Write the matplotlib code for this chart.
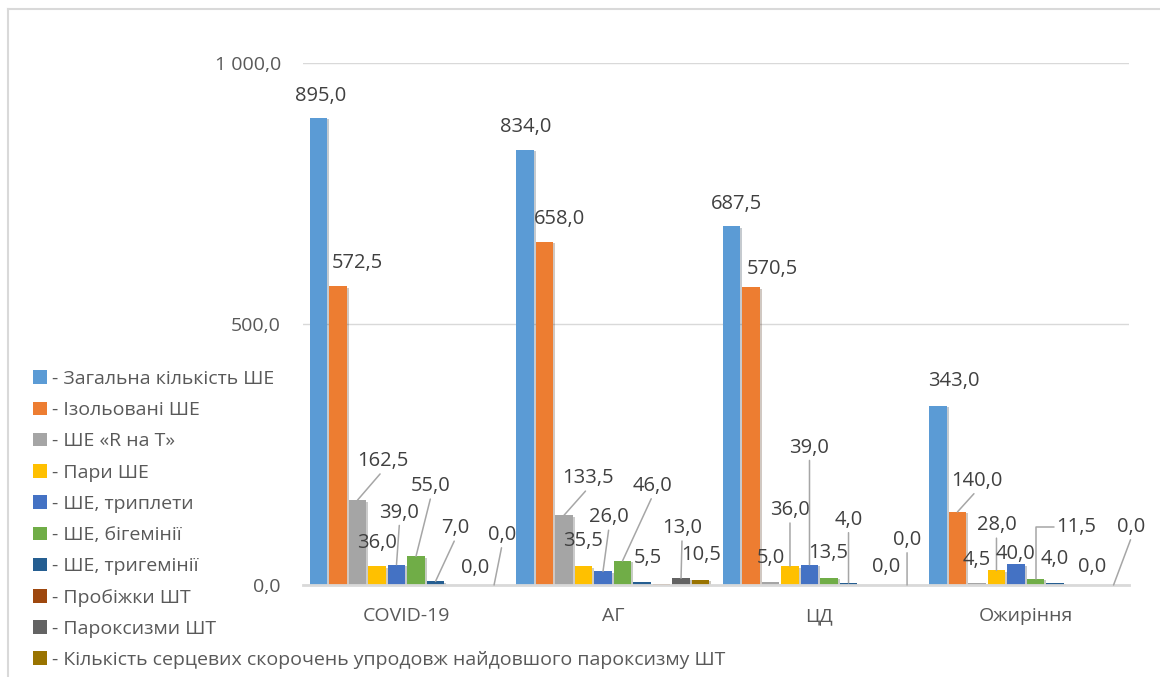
import matplotlib
matplotlib.use("Agg")
import matplotlib.pyplot as plt
import matplotlib.patheffects as pe
from matplotlib.lines import Line2D
from matplotlib.patches import Patch
import numpy as np

plt.rcParams["font.family"] = ["Open Sans", "DejaVu Sans"]

# --- дані ---
групи = ["COVID-19", "АГ", "ЦД", "Ожиріння"]
назви_серій = [
    "- Загальна кількість ШЕ",
    "- Ізольовані ШЕ",
    "- ШЕ «R на Т»",
    "- Пари ШЕ",
    "- ШЕ, триплети",
    "- ШЕ, бігемінії",
    "- ШЕ, тригемінії",
    "- Пробіжки ШТ",
    "- Пароксизми ШТ",
    "- Кількість серцевих скорочень упродовж найдовшого пароксизму ШТ",
]
загальна = [895.0, 834.0, 687.5, 343.0]
ізольовані = [572.5, 658.0, 570.5, 140.0]
r_на_t = [162.5, 133.5, 5.0, 4.5]
пари = [36.0, 35.5, 36.0, 28.0]
триплети = [39.0, 26.0, 39.0, 40.0]
бігемінії = [55.0, 46.0, 13.5, 11.5]
тригемінії = [7.0, 5.5, 4.0, 4.0]
пробіжки = [0.0, 1.0, 0.0, 0.0]
пароксизми = [0.0, 13.0, 0.0, 0.0]
скорочення = [0.0, 10.5, 0.0, 0.0]

серії = [загальна, ізольовані, r_на_t, пари, триплети,
         бігемінії, тригемінії, пробіжки, пароксизми, скорочення]

КОЛЬОРИ = ["#5B9BD5", "#ED7D31", "#A5A5A5", "#FFC000", "#4472C4",
           "#70AD47", "#255E91", "#9E480E", "#636363", "#997300"]
СІРИЙ_ТЕКСТ = "#595959"
ТЕМНИЙ_ТЕКСТ = "#404040"
ЛІНІЯ = "#D9D9D9"

# розміщення підписів значень: (серія, група) -> (dx, dy вниз у пікселях, тип виноски)
ПІДПИСИ = {
    (0, 0): (2, -22, None), (1, 0): (19, -23, None), (2, 0): (25, -39, "line"),
    (3, 0): (0, -23, None), (4, 0): (3, -52, "line"), (5, 0): (15, -70, "line"),
    (6, 0): (20, -53, "line"), (8, 0): (1, -17, None), (9, 0): (8, -50, "line"),
    (0, 1): (1, -23, None), (1, 1): (15, -23, None), (2, 1): (24, -37, "line"),
    (3, 1): (0, -25, None), (4, 1): (6, -54, "line"), (5, 1): (30, -75, "line"),
    (6, 1): (6, -24, None), (8, 1): (1, -50, "line"), (9, 1): (1, -25, None),
    (0, 2): (5, -22, None), (1, 2): (21, -18, None), (2, 2): (0, -24, None),
    (3, 2): (0, -56, "line"), (4, 2): (0, -117, "line"), (5, 2): (-1, -25, None),
    (6, 2): (0, -63, "line"), (8, 2): (-1, -18, None), (9, 2): (0, -45, "line"),
    (0, 3): (16, -25, None), (1, 3): (19, -31, "line"), (2, 3): (0, -23, None),
    (3, 3): (0, -45, "line"), (4, 3): (0, -10, None), (5, 3): (41, -52, "elbow"),
    (6, 3): (0, -24, None), (8, 3): (-2, -18, None), (9, 3): (18, -58, "line"),
}


def fmt(v):
    return f"{v:,.1f}".replace(",", " ").replace(".", ",")


fig = plt.figure(figsize=(11.6, 6.77), dpi=100)
ax = fig.add_axes([303 / 1160, 1 - 585 / 677, 826 / 1160, 522 / 677])

x = np.arange(len(групи))
крок = 0.0945
ширина = 0.083
тінь = [pe.SimplePatchShadow(offset=(1.5, -1), alpha=0.25), pe.Normal()]

for i, (значення, колір) in enumerate(zip(серії, КОЛЬОРИ)):
    bars = ax.bar(x + (i - 4.5) * крок, значення, ширина, color=колір, zorder=3)
    for b in bars:
        b.set_path_effects(тінь)

    for g, v in enumerate(значення):
        if (i, g) not in ПІДПИСИ:
            continue
        dx, dy, виноска = ПІДПИСИ[(i, g)]
        xb = x[g] + (i - 4.5) * крок
        arrow = None
        if виноска == "line":
            arrow = dict(arrowstyle="-", color="#A6A6A6", lw=1.1,
                         relpos=(0.5, 0.0), shrinkA=0, shrinkB=0)
        elif виноска == "elbow":
            arrow = dict(arrowstyle="-", color="#A6A6A6", lw=1.1,
                         relpos=(0.0, 0.5), shrinkA=0, shrinkB=0,
                         connectionstyle="angle,angleA=0,angleB=90,rad=0")
        ax.annotate(fmt(v), xy=(xb, v), xytext=(dx, -dy),
                    textcoords="offset pixels", ha="center", va="center",
                    fontsize=14.5, color=ТЕМНИЙ_ТЕКСТ, arrowprops=arrow,
                    zorder=5)

ax.set_xlim(-0.5, 3.5)
ax.set_ylim(0, 1000)
ax.set_yticks([0, 500, 1000])
ax.set_yticklabels([fmt(t) for t in [0, 500, 1000]])
ax.set_xticks(x)
ax.set_xticklabels(групи)
ax.tick_params(axis="both", length=0, labelsize=14, colors=СІРИЙ_ТЕКСТ)
ax.tick_params(axis="y", pad=16)
ax.tick_params(axis="x", pad=16)
ax.grid(axis="y", color=ЛІНІЯ, lw=1, zorder=0)
for s in ["top", "right", "left"]:
    ax.spines[s].set_visible(False)
ax.spines["bottom"].set_color(ЛІНІЯ)
ax.spines["bottom"].set_linewidth(2)
ax.spines["bottom"].set_zorder(4)

маркери = [Patch(facecolor=c, label=n) for c, n in zip(КОЛЬОРИ, назви_серій)]
fig.legend(handles=маркери, loc="upper left",
           bbox_to_anchor=(33 / 1160, 1 - 370 / 677), frameon=False,
           fontsize=14, labelcolor=СІРИЙ_ТЕКСТ, handlelength=0.7,
           handleheight=0.7, handletextpad=0.3, labelspacing=0.68,
           borderaxespad=0, borderpad=0)

# рамка області діаграми
fig.add_artist(Line2D([8 / 1160, 1], [1 - 9 / 677] * 2, color=ЛІНІЯ, lw=1.5))
fig.add_artist(Line2D([8 / 1160] * 2, [0, 1 - 9 / 677], color=ЛІНІЯ, lw=1.5))

fig.savefig("out.png", dpi=100, facecolor="white")
